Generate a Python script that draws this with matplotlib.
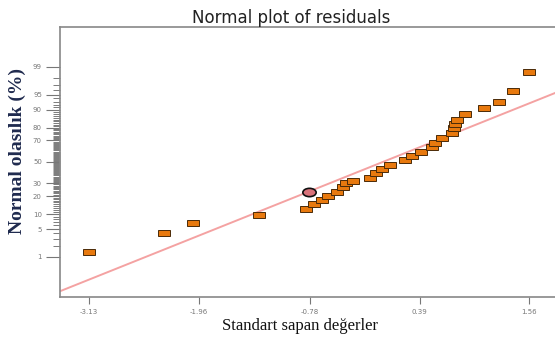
from statistics import NormalDist
import numpy as np
import matplotlib
matplotlib.use('Agg')
import matplotlib.pyplot as plt
from matplotlib.markers import MarkerStyle
from matplotlib.transforms import Affine2D

# residuals: standard deviations (x) vs normal probability in % (y)
std_dev = [-3.13, -2.33, -2.02, -1.32, -0.82, -0.73, -0.65, -0.59, -0.49, -0.43,
           -0.39, -0.32, -0.14, -0.07, -0.01, 0.07, 0.23, 0.31, 0.41, 0.52,
           0.55, 0.63, 0.74, 0.76, 0.77, 0.79, 0.87, 1.08, 1.24, 1.38, 1.56]
norm_pct = [1.35, 4.0, 6.7, 9.6, 12.3, 15.0, 17.4, 20.0, 22.9, 26.8,
            30.1, 31.8, 34.5, 39.1, 42.9, 46.8, 51.7, 55.6, 59.4, 64.1,
            67.6, 71.9, 75.9, 79.5, 82.2, 84.6, 87.9, 90.6, 92.8, 95.8, 98.6]
# highlighted run
sel_x = [-0.79]
sel_pct = [22.9]
# reference line slope in z units per std dev
ref_slope = 0.921

x_ticks = [-3.13, -1.96, -0.78, 0.39, 1.56]
y_ticks = [1, 5, 10, 20, 30, 50, 70, 80, 90, 95, 99]

nd = NormalDist()
_ppf = np.vectorize(lambda p: nd.inv_cdf(min(max(p / 100.0, 1e-9), 1 - 1e-9)))
_cdf = np.vectorize(lambda z: nd.cdf(z) * 100.0)


def fwd(p):
    return _ppf(np.asarray(p, dtype=float))


def inv(z):
    return _cdf(np.asarray(z, dtype=float))


fig = plt.figure(figsize=(5.55, 3.43), dpi=100)
ax = fig.add_axes([0.108, 0.134, 0.901, 0.788])
ax.set_yscale('function', functions=(fwd, inv))
ax.set_xlim(-3.44, 1.885)
ax.set_ylim(nd.cdf(-3.31) * 100, nd.cdf(3.31) * 100)

# reference line
lx = np.array(ax.get_xlim())
ax.plot(lx, inv(ref_slope * lx), color='#f4a2a2', lw=1.4, zorder=2)

rect = MarkerStyle('s', transform=Affine2D().scale(1.9, 1.0))
ax.plot(std_dev, norm_pct, linestyle='none', marker=rect, ms=4.7,
        mfc='#e8790e', mec='#4a2a08', mew=0.7, zorder=3)
ell = MarkerStyle('o', transform=Affine2D().scale(1.6, 1.0))
ax.plot(sel_x, sel_pct, linestyle='none', marker=ell, ms=6,
        mfc='#d9727a', mec='#111111', mew=1.2, zorder=4)

ax.set_xticks(x_ticks)
ax.set_xticklabels(['%.2f' % v for v in x_ticks])
ax.set_yticks(y_ticks)
ax.set_yticklabels([str(v) for v in y_ticks])
ax.set_yticks(list(range(1, 100)), minor=True)
ax.tick_params(axis='both', which='major', labelsize=5, colors='#777777',
               length=5, width=0.8)
ax.tick_params(axis='y', which='major', length=10, pad=3)
ax.tick_params(axis='y', which='minor', length=5, width=0.6, colors='#666666')
ax.tick_params(axis='x', which='minor', length=0)

for s in ['left', 'bottom', 'top']:
    ax.spines[s].set_color('#888888')
    ax.spines[s].set_linewidth(1.2)
ax.spines['right'].set_visible(False)

fig.text(0.525, 0.948, 'Normal plot of residuals', ha='center', va='center',
         fontsize=12, family='DejaVu Sans', color='#222222')
fig.text(0.031, 0.56, 'Normal olasılık (%)', rotation=90, ha='center', va='center',
         fontsize=14, family='Liberation Serif', fontweight='bold', color='#1f2a4e')
fig.text(0.54, 0.05, 'Standart sapan değerler', ha='center', va='center',
         fontsize=12, family='Liberation Serif', color='#111111')

fig.savefig('out.png', dpi=100)
